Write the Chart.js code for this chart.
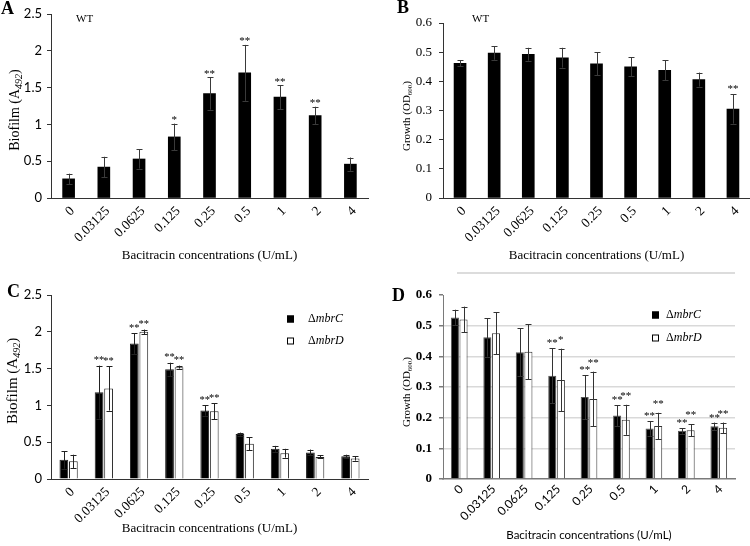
<!DOCTYPE html>
<html><head><meta charset="utf-8">
<script src="https://cdn.jsdelivr.net/npm/chart.js@4.4.0/dist/chart.umd.min.js"></script>
<style>
html,body{margin:0;padding:0;background:#fff;}
#wrap{position:relative;width:750px;height:546px;overflow:hidden;background:#fff;}
.panel{position:absolute;}
.panel canvas{display:block;}
#topline{position:absolute;left:457px;top:272px;width:278px;height:2px;background:#dcdcdc;}
</style></head><body>
<div id="wrap">
  <div class="panel" style="left:0;top:0;width:375px;height:270px"><canvas id="cA" width="375" height="270" style="width:375px;height:270px"></canvas></div>
  <div class="panel" style="left:375px;top:0;width:375px;height:270px"><canvas id="cB" width="375" height="270" style="width:375px;height:270px"></canvas></div>
  <div class="panel" style="left:0;top:270px;width:375px;height:276px"><canvas id="cC" width="375" height="276" style="width:375px;height:276px"></canvas></div>
  <div class="panel" style="left:375px;top:270px;width:375px;height:276px"><canvas id="cD" width="375" height="276" style="width:375px;height:276px"></canvas></div>
  <div id="topline"></div>
</div>
<script>
// ---------------- DATA ----------------
const concentrations = ['0', '0.03125', '0.0625', '0.125', '0.25', '0.5', '1', '2', '4'];

const biofilmTicks = [0, 0.5, 1, 1.5, 2, 2.5];
const growthTicks = [0, 0.1, 0.2, 0.3, 0.4, 0.5, 0.6];

// A: WT biofilm
const wtBiofilm    = [0.26, 0.42, 0.53, 0.83, 1.42, 1.70, 1.37, 1.12, 0.46];
const wtBiofilmErr = [0.07, 0.14, 0.13, 0.18, 0.22, 0.38, 0.16, 0.12, 0.09];
const wtBiofilmSig = ['', '', '', '*', '**', '**', '**', '**', ''];

// B: WT growth
const wtGrowth    = [0.462, 0.497, 0.493, 0.481, 0.460, 0.450, 0.438, 0.406, 0.305];
const wtGrowthErr = [0.011, 0.023, 0.022, 0.034, 0.040, 0.032, 0.034, 0.024, 0.050];
const wtGrowthSig = ['', '', '', '', '', '', '', '', '**'];

// C: mutants biofilm
const mbrCBiofilm    = [0.26, 1.18, 1.84, 1.49, 0.93, 0.61, 0.41, 0.36, 0.31];
const mbrCBiofilmErr = [0.12, 0.36, 0.14, 0.09, 0.07, 0.02, 0.04, 0.04, 0.02];
const mbrCBiofilmSig = ['', '**', '**', '**', '**', '', '', '', ''];
const mbrDBiofilm    = [0.24, 1.23, 2.00, 1.52, 0.92, 0.48, 0.35, 0.30, 0.28];
const mbrDBiofilmErr = [0.09, 0.30, 0.03, 0.02, 0.11, 0.09, 0.06, 0.02, 0.03];
const mbrDBiofilmSig = ['', '**', '**', '**', '**', '', '', '', ''];

// D: mutants growth
const mbrCGrowth    = [0.527, 0.462, 0.413, 0.337, 0.267, 0.207, 0.165, 0.157, 0.172];
const mbrCGrowthErr = [0.025, 0.063, 0.078, 0.090, 0.072, 0.034, 0.024, 0.009, 0.012];
const mbrCGrowthSig = ['', '', '', '**', '**', '**', '**', '**', '**'];
const mbrDGrowth    = [0.520, 0.475, 0.415, 0.323, 0.261, 0.193, 0.173, 0.159, 0.167];
const mbrDGrowthErr = [0.042, 0.068, 0.090, 0.102, 0.089, 0.049, 0.043, 0.020, 0.017];
const mbrDGrowthSig = ['', '', '', '*', '**', '**', '**', '**', '**'];

// ---------------- PLUGINS ----------------
const SERIF = '"Liberation Serif", "Times New Roman", serif';
const SANS = 'Lato, "Liberation Sans", sans-serif';

const errorBars = {
  id: 'errorBars',
  afterDatasetsDraw(chart, args, o) {
    const ctx = chart.ctx, ys = chart.scales.y;
    chart.data.datasets.forEach((ds, i) => {
      const meta = chart.getDatasetMeta(i);
      meta.data.forEach((bar, j) => {
        const v = ds.data[j], e = ds.errors[j];
        const x = Math.round(bar.x) + 0.5;
        const yt = ys.getPixelForValue(v + e), yb = ys.getPixelForValue(v - e);
        ctx.save();
        ctx.strokeStyle = o.color; ctx.lineWidth = 1;
        ctx.beginPath();
        ctx.moveTo(x, yb); ctx.lineTo(x, yt);
        ctx.moveTo(x - o.cap, Math.round(yt) + 0.5); ctx.lineTo(x + o.cap, Math.round(yt) + 0.5);
        ctx.moveTo(x - o.cap, Math.round(yb) + 0.5); ctx.lineTo(x + o.cap, Math.round(yb) + 0.5);
        ctx.stroke();
        if (ds.sig && ds.sig[j]) {
          ctx.fillStyle = '#000';
          ctx.font = o.sigFont;
          ctx.textAlign = 'center'; ctx.textBaseline = 'bottom';
          ctx.fillText(ds.sig[j], bar.x, yt - (ds.sigGap || 0));
        }
        ctx.restore();
      });
    });
  }
};

const panelDecor = {
  id: 'panelDecor',
  afterDraw(chart, args, o) {
    const ctx = chart.ctx;
    ctx.save();
    ctx.fillStyle = '#000';
    ctx.textAlign = 'left'; ctx.textBaseline = 'alphabetic';
    // rotated category labels, positioned from the x scale
    if (o.xLabels) {
      const xs = chart.scales.x, L = o.xLabels;
      ctx.font = L.font;
      ctx.textAlign = 'right'; ctx.textBaseline = 'middle';
      chart.data.labels.forEach((lab, i) => {
        const px = xs.getPixelForTick(i) + L.dx, py = xs.top + L.dy;
        ctx.save();
        ctx.translate(px, py); ctx.rotate(-Math.PI / 4);
        ctx.fillText(lab, 0, 0);
        ctx.restore();
      });
      ctx.textAlign = 'left'; ctx.textBaseline = 'alphabetic';
    }
    if (o.letter) { ctx.font = 'bold 18px ' + SERIF; ctx.fillText(o.letter.text, o.letter.x, o.letter.y); }
    if (o.tag) { ctx.font = '11px ' + SERIF; ctx.fillText(o.tag.text, o.tag.x, o.tag.y); }
    if (o.yTitle) {
      const t = o.yTitle, s = t.size;
      const pieces = [
        { text: t.main, font: s + 'px ' + SERIF, dy: 0 },
        { text: t.sub, font: (t.subItalic ? 'italic ' : '') + Math.round(s * 0.68) + 'px ' + SERIF, dy: s * 0.28 },
        { text: t.tail, font: s + 'px ' + SERIF, dy: 0 }
      ];
      let total = 0;
      pieces.forEach(p => { ctx.font = p.font; p.w = ctx.measureText(p.text).width; total += p.w; });
      ctx.save();
      ctx.translate(t.x, t.y); ctx.rotate(-Math.PI / 2);
      ctx.textBaseline = 'middle';
      let cx = -total / 2;
      pieces.forEach(p => { ctx.font = p.font; ctx.fillText(p.text, cx, p.dy); cx += p.w; });
      ctx.restore();
    }
    if (o.legend) {
      const L = o.legend;
      chart.data.datasets.forEach((ds, i) => {
        const y = L.y + i * L.dy;
        ctx.fillStyle = ds.backgroundColor;
        ctx.fillRect(L.x, y - L.box / 2, L.box, L.box);
        ctx.strokeStyle = '#000'; ctx.lineWidth = 1;
        ctx.strokeRect(L.x + 0.5, y - L.box / 2 + 0.5, L.box - 1, L.box - 1);
        ctx.fillStyle = '#000'; ctx.textBaseline = 'middle';
        ctx.font = '12px ' + SERIF;
        const d = ds.label.charAt(0), rest = ds.label.slice(1);
        ctx.fillText(d, L.x + L.gap, y);
        const dw = ctx.measureText(d).width;
        ctx.font = 'italic 12px ' + SERIF;
        ctx.fillText(rest, L.x + L.gap + dw, y);
      });
    }
    ctx.restore();
  }
};

function makePanel(id, p) {
  const gridY = {
    display: true,
    drawOnChartArea: !!p.grid,
    drawTicks: true,
    tickLength: 4,
    tickColor: p.axisColor,
    color: p.grid ? (c => (c.tick && (c.tick.value === 0 || c.tick.value === p.yMax)) ? 'rgba(0,0,0,0)' : p.grid) : p.axisColor,
    lineWidth: p.grid ? 1.5 : 1
  };
  return new Chart(document.getElementById(id), {
    type: 'bar',
    data: { labels: concentrations, datasets: p.datasets },
    plugins: [errorBars, panelDecor],
    options: {
      responsive: false,
      animation: false,
      devicePixelRatio: 1,
      layout: { padding: p.padding },
      plugins: {
        legend: { display: false },
        tooltip: { enabled: false },
        errorBars: p.err,
        panelDecor: p.decor
      },
      datasets: { bar: p.barOpts },
      scales: {
        x: {
          grid: { display: false, drawTicks: false },
          border: { display: true, color: p.axisColor, width: p.xBorderWidth || 1 },
          ticks: { display: false },
          title: { display: true, text: 'Bacitracin concentrations (U/mL)', font: p.xTitleFont, color: '#000', padding: { top: 0, bottom: p.xTitlePad } },
          afterFit: s => { s.height = p.xHeight; }
        },
        y: {
          min: 0, max: p.yMax,
          grid: gridY,
          border: { display: true, color: p.axisColor, width: 1 },
          ticks: { font: p.yTickFont, color: '#000', padding: p.yTickPad, callback: v => String(v) },
          afterBuildTicks: s => { s.ticks = p.yTicks.map(v => ({ value: v })); },
          afterFit: s => { s.width = p.yWidth; }
        }
      }
    }
  });
}

// Panel A
makePanel('cA', {
  datasets: [{ label: 'WT', data: wtBiofilm, errors: wtBiofilmErr, sig: wtBiofilmSig, sigGap: -2,
    backgroundColor: '#000', borderColor: '#000', borderWidth: 0 }],
  barOpts: { barThickness: 12 },
  yMax: 2.5, yTicks: biofilmTicks,
  padding: { left: 0, right: 7, top: 14, bottom: 0 },
  yWidth: 51, xHeight: 72,
  axisColor: '#333',
  xTitleFont: { family: SERIF, size: 13 }, xTitlePad: 7,
  yTickFont: { family: SANS, size: 13 }, yTickPad: 5,
  err: { color: '#3a3a3a', cap: 3, sigFont: '11px ' + SERIF },
  decor: {
    xLabels: { font: '13.5px ' + SERIF, dx: 4, dy: 11 },
    letter: { text: 'A', x: 1, y: 14 },
    tag: { text: 'WT', x: 76, y: 22 },
    yTitle: { main: 'Biofilm (A', sub: '492', tail: ')', subItalic: true, size: 14, x: 15, y: 110 }
  }
});

// Panel B
makePanel('cB', {
  datasets: [{ label: 'WT', data: wtGrowth, errors: wtGrowthErr, sig: wtGrowthSig, sigGap: 0,
    backgroundColor: '#000', borderColor: '#000', borderWidth: 0 }],
  barOpts: { barThickness: 12 },
  yMax: 0.6, yTicks: growthTicks,
  padding: { left: 0, right: 0, top: 23, bottom: 0 },
  yWidth: 68, xHeight: 72,
  axisColor: '#333',
  xTitleFont: { family: SERIF, size: 13 }, xTitlePad: 7,
  yTickFont: { family: SERIF, size: 13 }, yTickPad: 7,
  err: { color: '#3a3a3a', cap: 3, sigFont: '11px ' + SERIF },
  decor: {
    xLabels: { font: '13.5px ' + SERIF, dx: 4, dy: 11 },
    letter: { text: 'B', x: 22, y: 13 },
    tag: { text: 'WT', x: 97, y: 22 },
    yTitle: { main: 'Growth (OD', sub: '600', tail: ')', subItalic: false, size: 11, x: 32, y: 116 }
  }
});

// Panel C
makePanel('cC', {
  datasets: [
    { label: 'ΔmbrC', data: mbrCBiofilm, errors: mbrCBiofilmErr, sig: mbrCBiofilmSig, sigGap: 0,
      backgroundColor: '#000', borderColor: '#222', borderWidth: 1 },
    { label: 'ΔmbrD', data: mbrDBiofilm, errors: mbrDBiofilmErr, sig: mbrDBiofilmSig, sigGap: 0,
      backgroundColor: '#fff', borderColor: '#222', borderWidth: 1 }
  ],
  barOpts: { categoryPercentage: 0.54, barPercentage: 0.92 },
  yMax: 2.5, yTicks: biofilmTicks,
  padding: { left: 0, right: 7, top: 25, bottom: 0 },
  yWidth: 51, xHeight: 67,
  axisColor: '#333',
  xTitleFont: { family: SERIF, size: 13 }, xTitlePad: 10,
  yTickFont: { family: SANS, size: 13 }, yTickPad: 5,
  err: { color: '#222', cap: 3, sigFont: '10.5px ' + SERIF },
  decor: {
    xLabels: { font: '13.5px ' + SERIF, dx: 4, dy: 11 },
    letter: { text: 'C', x: 7, y: 27 },
    yTitle: { main: 'Biofilm (A', sub: '492', tail: ')', subItalic: true, size: 15, x: 13, y: 111 },
    legend: { x: 287, y: 49, dy: 22, box: 7, gap: 21 }
  }
});

// Panel D
makePanel('cD', {
  datasets: [
    { label: 'ΔmbrC', data: mbrCGrowth, errors: mbrCGrowthErr, sig: mbrCGrowthSig, sigGap: -1,
      backgroundColor: '#000', borderColor: '#555', borderWidth: 1 },
    { label: 'ΔmbrD', data: mbrDGrowth, errors: mbrDGrowthErr, sig: mbrDGrowthSig, sigGap: 3,
      backgroundColor: '#fff', borderColor: '#333', borderWidth: 1 }
  ],
  barOpts: { categoryPercentage: 0.53, barPercentage: 0.94 },
  yMax: 0.6, yTicks: growthTicks, grid: '#d9d9d9',
  padding: { left: 0, right: 15, top: 25, bottom: 0 },
  yWidth: 68, xHeight: 67,
  axisColor: '#7a7a7a', xBorderWidth: 1.5,
  xTitleFont: { family: SANS, size: 11.5 }, xTitlePad: 4,
  yTickFont: { family: SERIF, size: 13, weight: 'bold' }, yTickPad: 7,
  err: { color: '#333', cap: 3, sigFont: '11px ' + SERIF },
  decor: {
    xLabels: { font: '12px ' + SANS, dx: 2, dy: 8 },
    letter: { text: 'D', x: 17, y: 31 },
    yTitle: { main: 'Growth (OD', sub: '600', tail: ')', subItalic: false, size: 11, x: 32, y: 122 },
    legend: { x: 277, y: 45, dy: 23, box: 7, gap: 14 }
  }
});
</script>
</body></html>
